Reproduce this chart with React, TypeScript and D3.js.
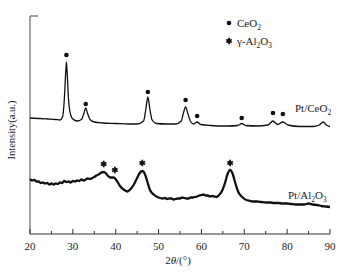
import React from "react";
import * as d3 from "d3";

// 2θ (deg) and intensity (a.u.) for Pt/CeO2
const ceTheta = [20, 22, 24, 26, 27, 27.6, 28.0, 28.3, 28.5, 28.7, 29.0, 29.5, 30, 31, 32, 32.6, 33.0, 33.4, 34, 35, 37, 40, 43, 45, 46.5, 47.0, 47.5, 48.0, 48.5, 49.5, 52, 54, 55.3, 55.8, 56.3, 56.8, 57.4, 58.2, 59.0, 59.8, 62, 66, 68.5, 69.4, 70.3, 73, 75.5, 76.7, 77.8, 79.0, 80.2, 83, 86, 87.5, 88.4, 89.3, 90];
const ceInt = [116, 115.5, 115, 114.5, 114, 117, 134, 159, 172, 159, 134, 119, 115, 113, 114.5, 121, 126, 121, 114.5, 112, 111, 110.5, 110, 110, 113, 124, 137, 124, 114, 110.5, 110, 110, 113, 121, 127, 121, 113, 110, 112, 109.5, 108.5, 108, 108.5, 110.5, 108.5, 108, 109, 113, 109.5, 112, 109, 107.5, 107.5, 109, 112, 108.5, 107.5];

// 2θ (deg) and intensity (a.u.) for Pt/Al2O3
const alTheta = [20, 20.5, 21, 21.5, 22, 22.5, 23, 23.5, 24, 24.5, 25, 25.5, 26, 26.5, 27, 27.5, 28, 28.5, 29, 29.5, 30, 30.5, 31, 31.5, 32, 32.5, 33, 33.5, 34, 34.5, 35, 35.5, 36, 36.5, 37, 37.5, 38, 38.7, 39.5, 40.3, 41, 42, 42.7, 43.5, 44.3, 45, 45.6, 46.2, 46.8, 47.4, 48, 49, 50, 51, 51.5, 52, 52.5, 53, 53.5, 54, 54.5, 55, 55.5, 56, 56.5, 57, 57.5, 58, 58.5, 59, 59.5, 60, 60.5, 61, 61.5, 62, 62.5, 63, 63.5, 64, 64.8, 65.5, 66.1, 66.7, 67.3, 67.9, 68.6, 69.5, 70.5, 71, 72, 73, 74, 75, 76, 77, 78, 79, 80, 81, 82, 83, 84, 85, 86, 87, 88, 89, 90];
const alInt = [55, 53.5, 54, 52.5, 52.5, 51, 51.5, 50.5, 51, 49.5, 50.5, 49.5, 50.5, 50, 51.5, 51, 53, 52, 52.5, 51.5, 53, 52.5, 53.5, 53, 54.5, 53.5, 54.5, 55.5, 55, 56, 57, 58.5, 59.5, 61, 62, 61.5, 59, 56.5, 56.5, 53, 48, 44, 42.5, 45, 50, 56, 61, 63, 60, 52, 44, 39, 36.5, 35.5, 36, 35, 35.5, 35.5, 34.5, 35, 35.5, 35.5, 36.5, 36, 35.5, 35.5, 36.5, 36.5, 37, 37.5, 38.5, 39, 39.5, 38.5, 38.5, 37.5, 38, 37.5, 37, 38.5, 43, 51, 60, 64, 60, 51, 42, 37, 34, 33.5, 32.5, 32.5, 32, 31.5, 31.5, 31, 31, 30.5, 30.5, 30, 29.5, 29.5, 29.5, 30.5, 29.5, 29, 28, 27.5, 27];

// Phase markers
const ceMarkTheta = [28.5, 33.0, 47.5, 56.3, 59.0, 69.4, 76.7, 79.0];
const ceMarkInt = [179, 130, 142, 134, 118, 116, 121, 120];
const alMarkTheta = [37.2, 39.8, 46.2, 66.7];
const alMarkInt = [70, 64, 71, 71];

const xTicks = [20, 30, 40, 50, 60, 70, 80, 90];
const xMinor = [25, 35, 45, 55, 65, 75, 85];

const FONT = "'Liberation Serif', 'Times New Roman', serif";

export default function App() {
  const W = 356, H = 275;
  const x = d3.scaleLinear().domain([20, 90]).range([30, 330]);
  const y = d3.scaleLinear().domain([0, 218]).range([234, 16]);

  const mk = (t: number[], v: number[]) =>
    d3
      .line<number>()
      .x((d) => x(d))
      .y((_, i) => y(v[i]))
      .curve(d3.curveMonotoneX)(t) as string;

  const ast = d3.symbol().type(d3.symbolAsterisk).size(28)() as string;

  return (
    <svg width={W} height={H} style={{ position: "absolute", left: 0, top: 0, background: "#fff" }} fontFamily={FONT}>
      <rect width={W} height={H} fill="#fff" />
      {/* axes */}
      <line x1={30} y1={16} x2={30} y2={234} stroke="#666" strokeWidth={1.2} />
      <line x1={30} y1={16} x2={38} y2={16} stroke="#666" strokeWidth={1.2} />
      <line x1={30} y1={234} x2={330} y2={234} stroke="#333" strokeWidth={1.2} />
      {xTicks.map((t) => (
        <g key={"t" + t}>
          <line x1={x(t)} x2={x(t)} y1={234} y2={229} stroke="#333" strokeWidth={1} />
          <text x={x(t)} y={250} textAnchor="middle" fontSize={11} fill="#222">
            {t}
          </text>
        </g>
      ))}
      {xMinor.map((t) => (
        <line key={"m" + t} x1={x(t)} x2={x(t)} y1={234} y2={231} stroke="#333" strokeWidth={1} />
      ))}
      <text x={178} y={264} textAnchor="middle" fontSize={11} fill="#222">
        2<tspan fontStyle="italic">θ</tspan>/(°)
      </text>
      <text transform="translate(15,130) rotate(-90)" textAnchor="middle" fontSize={10.5} fill="#222">
        Intensity(a.u.)
      </text>

      {/* curves */}
      <path d={mk(ceTheta, ceInt)} fill="none" stroke="#111" strokeWidth={1.3} />
      <path d={mk(alTheta, alInt)} fill="none" stroke="#111" strokeWidth={2.3} />

      {/* markers */}
      {ceMarkTheta.map((t, i) => (
        <circle key={"c" + i} cx={x(t)} cy={y(ceMarkInt[i])} r={2.3} fill="#111" />
      ))}
      {alMarkTheta.map((t, i) => (
        <path key={"a" + i} d={ast} transform={`translate(${x(t)},${y(alMarkInt[i])})`} stroke="#111" strokeWidth={1.8} fill="none" />
      ))}

      {/* series labels */}
      <text x={295} y={112} fontSize={11} fill="#222">
        Pt/CeO<tspan fontSize={7.5} dy={3}>2</tspan>
      </text>
      <text x={288} y={199} fontSize={11} fill="#222">
        Pt/Al<tspan fontSize={7.5} dy={3}>2</tspan>
        <tspan dy={-3}>O</tspan>
        <tspan fontSize={7.5} dy={3}>3</tspan>
      </text>

      {/* legend */}
      <circle cx={229} cy={23} r={2.3} fill="#111" />
      <text x={237} y={27} fontSize={11} fill="#222">
        CeO<tspan fontSize={7.5} dy={3}>2</tspan>
      </text>
      <path d={ast} transform="translate(229,41)" stroke="#111" strokeWidth={1.8} fill="none" />
      <text x={237} y={45} fontSize={11} fill="#222">
        γ-Al<tspan fontSize={7.5} dy={3}>2</tspan>
        <tspan dy={-3}>O</tspan>
        <tspan fontSize={7.5} dy={3}>3</tspan>
      </text>
    </svg>
  );
}
